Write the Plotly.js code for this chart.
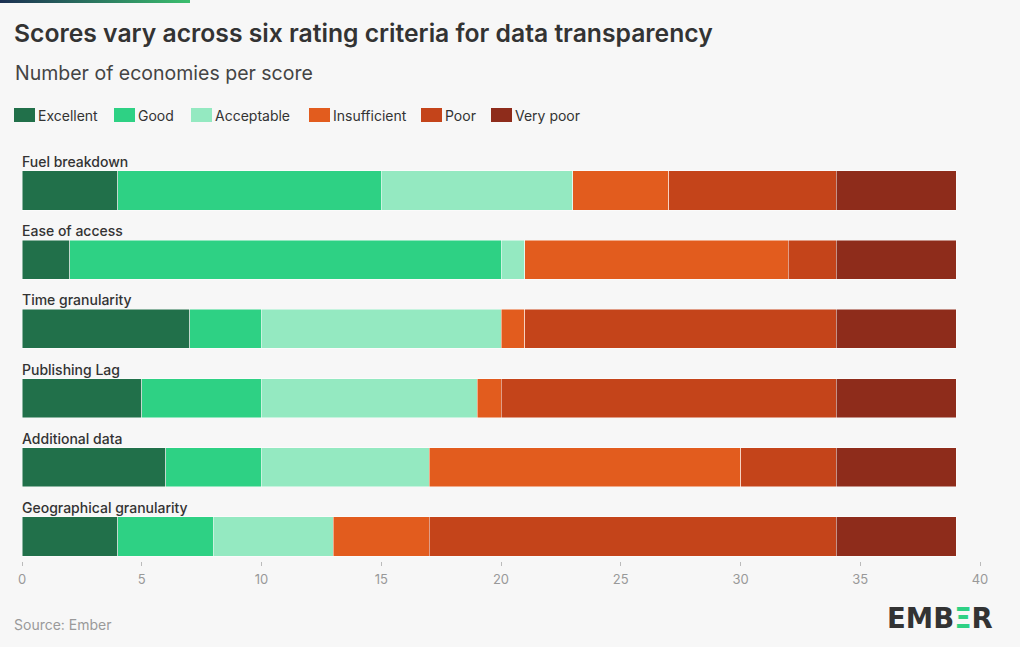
<!DOCTYPE html>
<html>
<head>
<meta charset="utf-8">
<script src="https://cdn.plot.ly/plotly-3.0.1.min.js"></script>
<style>
html,body{margin:0;padding:0;background:#f7f7f7;}
#chart{width:1020px;height:647px;}
</style>
</head>
<body>
<div id="chart"></div>
<script>
// ---- Data ----
const categories = ["Fuel breakdown", "Ease of access", "Time granularity", "Publishing Lag", "Additional data", "Geographical granularity"];
const seriesNames = ["Excellent", "Good", "Acceptable", "Insufficient", "Poor", "Very poor"];
const excellent    = [4, 2, 7, 5, 6, 4];
const good         = [11, 18, 3, 5, 4, 4];
const acceptable   = [8, 1, 10, 9, 7, 5];
const insufficient = [4, 11, 1, 1, 13, 4];
const poor         = [7, 2, 13, 14, 4, 17];
const veryPoor     = [5, 5, 5, 5, 5, 5];
const xTicks = [0, 5, 10, 15, 20, 25, 30, 35, 40];

const seriesValues = [excellent, good, acceptable, insufficient, poor, veryPoor];
const colors = ["#21704a", "#2ed184", "#94e9c1", "#e25c1e", "#c4441a", "#8e2c1b"];

const FONT = "Inter, 'Open Sans', sans-serif";

const traces = seriesNames.map((name, i) => ({
  type: "bar",
  orientation: "h",
  name: name,
  y: categories,
  x: seriesValues[i],
  marker: {color: colors[i], line: {color: "rgba(255,255,255,0.6)", width: 0.8}},
  hoverinfo: "x+name"
}));

// Plot geometry (pixels)
const L = 22, R = 40, T = 150, B = 86;
const W = 1020, H = 647;
const pw = W - L - R, ph = H - T - B;
const px = v => (v - L) / pw;          // pixel x -> paper x
const py = v => (H - B - v) / ph;      // pixel y -> paper y

const annotations = categories.map(c => ({
  xref: "x", yref: "y", x: 0, y: c, yshift: 29, xshift: -2,
  text: c, showarrow: false, xanchor: "left", yanchor: "middle",
  font: {family: FONT, size: 14, color: "#333333", weight: 500}
}));

annotations.push({
  xref: "paper", yref: "paper", x: px(13), y: py(73),
  text: "Number of economies per score", showarrow: false,
  xanchor: "left", yanchor: "middle",
  font: {family: FONT, size: 19.5, color: "#444444"}
});
annotations.push({
  xref: "paper", yref: "paper", x: px(12), y: py(624),
  text: "Source: Ember", showarrow: false,
  xanchor: "left", yanchor: "middle",
  font: {family: FONT, size: 14, color: "#9a9a9a"}
});
annotations.push({
  xref: "paper", yref: "paper", x: px(995), y: py(618),
  text: "EMB<span style=\"color:#2ed184\">Ξ</span>R", showarrow: false,
  xanchor: "right", yanchor: "middle",
  font: {family: "'DejaVu Sans', sans-serif", size: 27.5, color: "#333333", weight: 700}
});

// Custom legend (swatch left edges in pixels)
const legendX = [14, 114, 191, 309, 421, 491];
const shapes = [];
seriesNames.forEach((name, i) => {
  shapes.push({
    type: "rect", xref: "paper", yref: "paper",
    x0: px(legendX[i]), x1: px(legendX[i] + 21), y0: py(122), y1: py(108),
    fillcolor: colors[i], line: {width: 0}
  });
  annotations.push({
    xref: "paper", yref: "paper", x: px(legendX[i] + 22), y: py(115),
    text: name, showarrow: false, xanchor: "left", yanchor: "middle",
    font: {family: FONT, size: 14, color: "#333333"}
  });
});

const gradSvg = '<svg xmlns="http://www.w3.org/2000/svg" width="190" height="3"><defs><linearGradient id="g" x1="0" x2="1" y1="0" y2="0"><stop offset="0" stop-color="#1b2f52"/><stop offset="1" stop-color="#3bbf6e"/></linearGradient></defs><rect width="190" height="3" fill="url(#g)"/></svg>';

const layout = {
  width: W, height: H,
  paper_bgcolor: "#f7f7f7", plot_bgcolor: "#f7f7f7",
  margin: {l: L, r: R, t: T, b: B},
  barmode: "stack",
  bargap: 0.435,
  showlegend: false,
  title: {
    text: "Scores vary across six rating criteria for data transparency",
    xref: "container", yref: "container",
    x: 14 / W, xanchor: "left", y: 1 - 33 / H, yanchor: "middle",
    font: {family: FONT, size: 24.7, color: "#333333", weight: 600}
  },
  xaxis: {
    range: [0, 40], tickvals: xTicks, ticktext: xTicks.map(String),
    showgrid: false, zeroline: false, showline: false,
    ticks: "outside", ticklen: 4, tickcolor: "#bbbbbb", ticklabelstandoff: 2,
    tickfont: {family: FONT, size: 13, color: "#999999"},
    fixedrange: true
  },
  yaxis: {
    type: "category", categoryorder: "array", categoryarray: categories,
    range: [5.354, -0.585],
    showticklabels: false, showgrid: false, zeroline: false, showline: false, ticks: "",
    fixedrange: true
  },
  shapes: shapes,
  annotations: annotations,
  images: [{
    source: "data:image/svg+xml;utf8," + encodeURIComponent(gradSvg),
    xref: "paper", yref: "paper", x: px(0), y: py(0), sizex: 190 / pw, sizey: 3 / ph,
    xanchor: "left", yanchor: "top", sizing: "stretch", layer: "above"
  }]
};

Plotly.newPlot("chart", traces, layout, {displayModeBar: false, responsive: false});
</script>
</body>
</html>
